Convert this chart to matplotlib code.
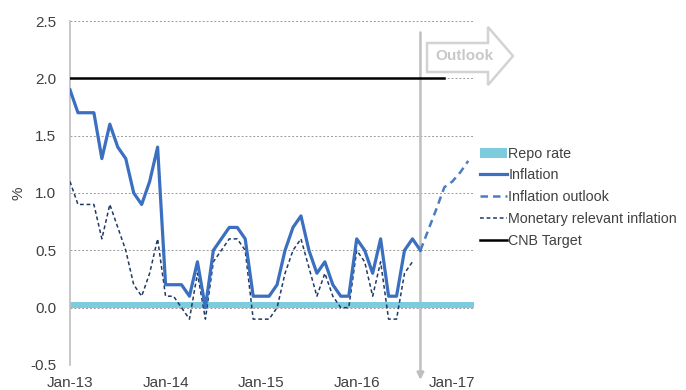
import numpy as np
import matplotlib
matplotlib.use("Agg")
import matplotlib.pyplot as plt
from matplotlib.patches import Polygon

plt.rcParams['font.family'] = ['Liberation Sans', 'DejaVu Sans']

# meses desde Jan-13
tick_pos = [0, 12, 24, 36, 48]
tick_labels = ["Jan-13", "Jan-14", "Jan-15", "Jan-16", "Jan-17"]

inflation = [1.9, 1.7, 1.7, 1.7, 1.3, 1.6, 1.4, 1.3, 1.0, 0.9, 1.1, 1.4,
             0.2, 0.2, 0.2, 0.1, 0.4, 0.0, 0.5, 0.6, 0.7, 0.7, 0.6, 0.1,
             0.1, 0.1, 0.2, 0.5, 0.7, 0.8, 0.5, 0.3, 0.4, 0.2, 0.1, 0.1,
             0.6, 0.5, 0.3, 0.6, 0.1, 0.1, 0.5, 0.6, 0.5]
monetary = [1.1, 0.9, 0.9, 0.9, 0.6, 0.9, 0.7, 0.5, 0.2, 0.1, 0.3, 0.6,
            0.1, 0.1, 0.0, -0.1, 0.3, -0.1, 0.4, 0.5, 0.6, 0.6, 0.5, -0.1,
            -0.1, -0.1, 0.0, 0.3, 0.5, 0.6, 0.35, 0.1, 0.3, 0.1, 0.0, 0.0,
            0.5, 0.4, 0.1, 0.4, -0.1, -0.1, 0.3, 0.4]
outlook = [0.5, 0.68, 0.86, 1.05, 1.1, 1.18, 1.28]
outlook_start = 44
repo = [0.05] * 52
target = [2.0] * 48

m_infl = np.arange(len(inflation))
m_mon = np.arange(len(monetary))
m_out = np.arange(outlook_start, outlook_start + len(outlook))
m_repo = np.arange(len(repo))
m_tgt = np.arange(len(target))

fig = plt.figure(figsize=(6.86, 3.90), dpi=100)
ax = fig.add_axes([70/686, 1 - 365/390, (473-70)/686, (365-21)/390])

txt = "#404040"
ax.fill_between(m_repo, 0, repo, color="#7DCBDF", lw=0, label="Repo rate", zorder=2)
ax.plot(m_infl, inflation, color="#3B6FBF", lw=2.3, label="Inflation", zorder=4)
ax.plot(m_out, outlook, color="#4A7CC4", lw=1.8, ls=(0, (3, 2)), label="Inflation outlook", zorder=4)
ax.plot(m_mon, monetary, color="#1F3A66", lw=1.1, ls=(0, (2.5, 1.8)),
        label="Monetary relevant inflation", zorder=3)
ax.plot(m_tgt, target, color="black", lw=1.8, label="CNB Target", zorder=3)

ax.set_xlim(0, 50.6)
ax.set_ylim(-0.5, 2.5)
ax.set_yticks(np.arange(-0.5, 2.51, 0.5))
ax.set_yticklabels([f"{v:.1f}" for v in np.arange(-0.5, 2.51, 0.5)])
ax.set_xticks(tick_pos)
ax.set_xticklabels(tick_labels)
ax.tick_params(length=0, labelsize=11, colors=txt)
ax.tick_params(axis="x", pad=8)
ax.tick_params(axis="y", pad=10)
ax.grid(axis="y", color="#9A9A9A", lw=0.7, ls=(0, (2, 2)))
ax.set_axisbelow(True)
for s in ["top", "right", "bottom"]:
    ax.spines[s].set_visible(False)
ax.spines["left"].set_color("#BFBFBF")
ax.spines["left"].set_linewidth(1.2)
ax.set_ylabel("%", fontsize=11, color=txt)
ax.yaxis.set_label_coords(-0.11, 0.5)

# línea vertical de inicio del pronóstico
ax.annotate("", xy=(outlook_start, -0.63), xytext=(outlook_start, 2.4),
            arrowprops=dict(arrowstyle="-|>", color="#BFBFBF", lw=1.8,
                            mutation_scale=10, shrinkA=0, shrinkB=0),
            annotation_clip=False, zorder=1)

# flecha "Outlook"
pts = [(427, 43), (488, 43), (488, 27), (513, 56), (488, 85), (488, 72), (427, 72)]
pts = [(x / 686, 1 - y / 390) for x, y in pts]
fig.patches.append(Polygon(pts, closed=True, fill=False, ec="#D3D3D3", lw=1.8,
                           transform=fig.transFigure))
fig.text(464 / 686, 1 - 56 / 390, "Outlook", color="#C8C8C8", fontsize=11,
         fontweight="bold", ha="center", va="center")

ax.legend(loc="upper left", bbox_to_anchor=(0.995, 0.66), frameon=False,
          fontsize=10.3, labelcolor=txt, handlelength=1.9, handletextpad=0.1,
          labelspacing=0.55, borderaxespad=0.2)

fig.savefig("out.png", dpi=100)
